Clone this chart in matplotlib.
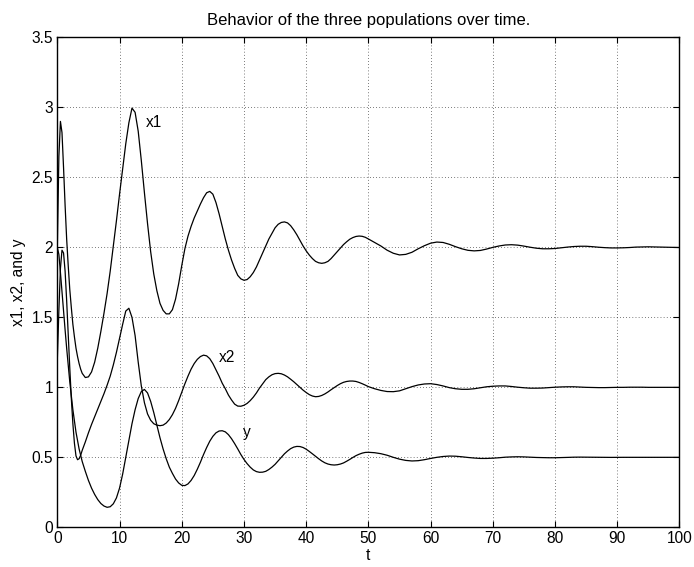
import matplotlib
matplotlib.use("Agg")
import matplotlib.pyplot as plt

plt.rcParams['font.family'] = ['Liberation Sans', 'DejaVu Sans']

# time grid: 0..4 by 0.25, 4.5..50 by 0.5, 51..100 by 1
t = [i * 0.25 for i in range(17)] + [4.5 + 0.5 * i for i in range(92)] + list(range(51, 101))

x1 = [2.00, 2.65, 2.90, 2.82, 2.57, 2.30, 2.06, 1.87, 1.70, 1.57, 1.45, 1.36, 1.28, 1.22, 1.17, 1.13, 1.10,
      1.07, 1.075, 1.11, 1.18, 1.28, 1.40, 1.53, 1.67, 1.83, 2.01,
      2.19, 2.38, 2.56, 2.74, 2.89, 2.995, 2.965, 2.83, 2.62, 2.39,
      2.17, 1.97, 1.81, 1.69, 1.60, 1.55, 1.525, 1.525, 1.555, 1.63,
      1.74, 1.87, 1.99, 2.08, 2.15, 2.21, 2.26, 2.31, 2.355, 2.39,
      2.40, 2.38, 2.32, 2.24, 2.15, 2.06, 1.98, 1.91, 1.85, 1.80,
      1.775, 1.765, 1.77, 1.79, 1.82, 1.86, 1.91, 1.96, 2.01, 2.06,
      2.10, 2.14, 2.165, 2.178, 2.182, 2.175, 2.155, 2.125, 2.09, 2.05,
      2.01, 1.975, 1.945, 1.92, 1.90, 1.89, 1.886, 1.89, 1.90, 1.92,
      1.945, 1.97, 1.995, 2.02, 2.04, 2.058, 2.07, 2.078, 2.081, 2.079,
      2.072, 2.06,
      2.035, 2.01, 1.98, 1.958, 1.946, 1.95, 1.965, 1.99, 2.012, 2.03,
      2.038, 2.035, 2.022, 2.005, 1.99, 1.979, 1.975, 1.978, 1.988, 2.00,
      2.01, 2.017, 2.019, 2.016, 2.009, 2.001, 1.994, 1.99, 1.99, 1.992,
      1.997, 2.002, 2.006, 2.008, 2.008, 2.005, 2.001, 1.998, 1.996, 1.996,
      1.997, 1.999, 2.002, 2.003, 2.004, 2.003, 2.002, 2.001, 2.000, 1.999]

x2 = [1.20, 1.55, 1.85, 1.98, 1.96, 1.83, 1.62, 1.38, 1.14, 0.92, 0.74, 0.60, 0.51, 0.483, 0.49, 0.515, 0.55,
      0.61, 0.675, 0.735, 0.79, 0.845, 0.90, 0.955, 1.015, 1.08, 1.16,
      1.25, 1.35, 1.45, 1.545, 1.565, 1.50, 1.37, 1.18, 1.01, 0.89,
      0.81, 0.765, 0.74, 0.73, 0.726, 0.73, 0.745, 0.77, 0.805, 0.85,
      0.905, 0.965, 1.025, 1.08, 1.13, 1.17, 1.20, 1.22, 1.23, 1.225,
      1.205, 1.17, 1.125, 1.08, 1.03, 0.99, 0.945, 0.91, 0.88, 0.866,
      0.865, 0.872, 0.885, 0.905, 0.93, 0.96, 0.995, 1.025, 1.055, 1.075,
      1.09, 1.098, 1.10, 1.097, 1.088, 1.075, 1.058, 1.04, 1.02, 1.00,
      0.98, 0.963, 0.948, 0.938, 0.933, 0.935, 0.942, 0.953, 0.967, 0.983,
      0.998, 1.013, 1.026, 1.036, 1.042, 1.045, 1.045, 1.042, 1.035, 1.026,
      1.016, 1.005,
      0.99, 0.978, 0.97, 0.969, 0.975, 0.99, 1.005, 1.017, 1.024, 1.026,
      1.02, 1.01, 0.998, 0.99, 0.986, 0.986, 0.99, 0.997, 1.004, 1.008,
      1.01, 1.01, 1.006, 1.001, 0.997, 0.994, 0.994, 0.995, 0.998, 1.001,
      1.003, 1.004, 1.004, 1.002, 1.000, 0.999, 0.998, 0.998, 0.999, 1.000,
      1.000, 1.001, 1.001, 1.001, 1.000, 1.000, 1.000, 1.000, 1.000, 1.000]

y = [2.00, 1.95, 1.82, 1.68, 1.55, 1.41, 1.28, 1.16, 1.04, 0.94, 0.84, 0.76, 0.68, 0.62, 0.56, 0.515, 0.47,
     0.40, 0.335, 0.28, 0.235, 0.198, 0.17, 0.152, 0.143, 0.147, 0.168,
     0.21, 0.28, 0.38, 0.50, 0.62, 0.74, 0.84, 0.92, 0.97, 0.985,
     0.96, 0.90, 0.82, 0.73, 0.64, 0.56, 0.49, 0.43, 0.385, 0.345,
     0.317, 0.30, 0.298, 0.31, 0.335, 0.37, 0.415, 0.465, 0.52, 0.57,
     0.615, 0.65, 0.675, 0.688, 0.69, 0.682, 0.662, 0.633, 0.598, 0.56,
     0.52, 0.485, 0.455, 0.43, 0.41, 0.398, 0.393, 0.394, 0.40, 0.413,
     0.43, 0.45, 0.475, 0.50, 0.525, 0.545, 0.562, 0.573, 0.578, 0.577,
     0.57, 0.558, 0.542, 0.525, 0.507, 0.49, 0.474, 0.461, 0.452, 0.447,
     0.445, 0.447, 0.452, 0.46, 0.472, 0.485, 0.499, 0.512, 0.522, 0.53,
     0.535, 0.536,
     0.533, 0.526, 0.515, 0.50, 0.487, 0.478, 0.474, 0.476, 0.483, 0.492,
     0.50, 0.506, 0.509, 0.508, 0.504, 0.499, 0.495, 0.492, 0.492, 0.494,
     0.497, 0.501, 0.503, 0.504, 0.503, 0.501, 0.499, 0.498, 0.497, 0.497,
     0.498, 0.4995, 0.501, 0.5015, 0.501, 0.5005, 0.500, 0.4995, 0.4995, 0.500,
     0.500, 0.500, 0.500, 0.500, 0.500, 0.500, 0.500, 0.500, 0.500, 0.500]

labels = ["x1", "x2", "y"]
label_pos = [(14.2, 2.89), (25.9, 1.21), (29.9, 0.68)]

xticks = list(range(0, 101, 10))
yticks = [0, 0.5, 1, 1.5, 2, 2.5, 3, 3.5]
ytick_labels = ["0", "0.5", "1", "1.5", "2", "2.5", "3", "3.5"]

fig = plt.figure(figsize=(6.94, 5.67), dpi=100)
ax = fig.add_axes([0.0826, 0.070, 0.8965, 0.864])

for series in (x1, x2, y):
    ax.plot(t, series, color='black', lw=0.9)

for lab, (lx, ly) in zip(labels, label_pos):
    ax.text(lx, ly, lab, fontsize=11.2, ha='left', va='center')

ax.set_xlim(0, 100)
ax.set_ylim(0, 3.5)
ax.set_xticks(xticks)
ax.set_yticks(yticks)
ax.set_yticklabels(ytick_labels)
ax.tick_params(direction='in', length=4, width=0.8, top=True, right=True,
               labelsize=11.2, pad=3)
ax.grid(True, color='black', linestyle=(0, (1, 3.5)), linewidth=0.5)
for sp in ax.spines.values():
    sp.set_linewidth(1.0)

ax.set_title("Behavior of the three populations over time.", fontsize=12, pad=9)
ax.set_xlabel("t", fontsize=11.2, labelpad=1)
ax.set_ylabel("x1, x2, and y", fontsize=11.2, labelpad=4)

fig.savefig("out.png", dpi=100)
